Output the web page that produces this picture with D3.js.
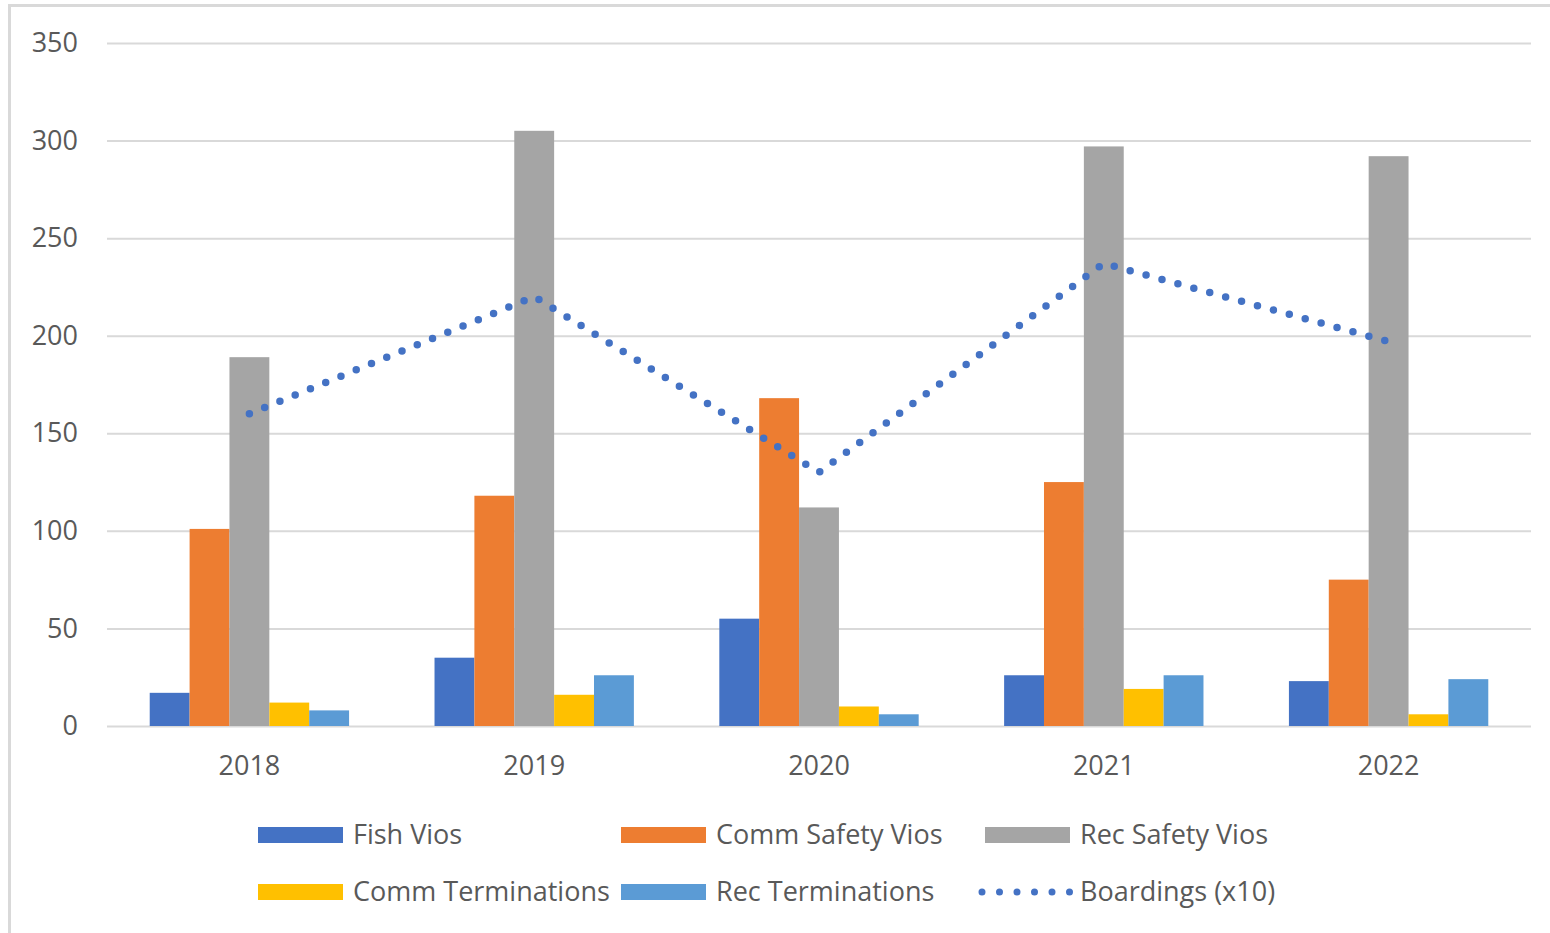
<!DOCTYPE html>
<html>
<head>
<meta charset="utf-8">
<script src="https://cdn.jsdelivr.net/npm/d3@7"></script>
<style>
  body { margin: 0; background: #fff; }
  svg text { font-family: "Open Sans", "Noto Sans", sans-serif; fill: #595959; }
</style>
</head>
<body>
<div id="chart"></div>
<script>
// data
const years = ["2018", "2019", "2020", "2021", "2022"];
const fishVios = [17, 35, 55, 26, 23];
const commSafetyVios = [101, 118, 168, 125, 75];
const recSafetyVios = [189, 305, 112, 297, 292];
const commTerminations = [12, 16, 10, 19, 6];
const recTerminations = [8, 26, 6, 26, 24];
const boardings = [160, 220, 130, 237, 197];
const yTicks = [0, 50, 100, 150, 200, 250, 300, 350];

const barSeries = [
  { name: "Fish Vios", values: fishVios, color: "#4472C4" },
  { name: "Comm Safety Vios", values: commSafetyVios, color: "#ED7D31" },
  { name: "Rec Safety Vios", values: recSafetyVios, color: "#A5A5A5" },
  { name: "Comm Terminations", values: commTerminations, color: "#FFC000" },
  { name: "Rec Terminations", values: recTerminations, color: "#5B9BD5" }
];

function makeChart() {
  let svgWidth = 1550;
  let svgHeight = 933;
  let margin = { top: 43, right: 19, bottom: 207, left: 107 };
  let w = svgWidth - margin.left - margin.right;
  let h = svgHeight - margin.top - margin.bottom;

  let svg = d3.select("#chart")
    .append("svg")
    .attr("width", svgWidth)
    .attr("height", svgHeight);

  // frame
  svg.append("rect")
    .attr("x", 9.5).attr("y", 5.5)
    .attr("width", 1700).attr("height", 1200)
    .attr("fill", "none")
    .attr("stroke", "#d9d9d9")
    .attr("stroke-width", 3);

  let g = svg.append("g")
    .attr("transform", `translate(${margin.left}, ${margin.top})`);

  let x0 = d3.scaleBand()
    .domain(years)
    .range([0, w])
    .paddingInner(0.3)
    .paddingOuter(0.15);

  let x1 = d3.scaleBand()
    .domain(barSeries.map(d => d.name))
    .range([0, x0.bandwidth()]);

  let y = d3.scaleLinear()
    .domain([0, 350])
    .range([h, 0]);

  // gridlines + y labels
  let yAxis = g.append("g")
    .call(d3.axisLeft(y).tickValues(yTicks).tickSize(-w).tickPadding(29));
  yAxis.select(".domain").remove();
  yAxis.selectAll("line").attr("stroke", "#d9d9d9").attr("stroke-width", 2);
  yAxis.selectAll("text").attr("font-size", "27px").style("fill", "#595959");

  // x labels
  let xAxis = g.append("g")
    .attr("transform", `translate(0, ${h})`)
    .call(d3.axisBottom(x0).tickSize(0).tickPadding(30));
  xAxis.select(".domain").remove();
  xAxis.selectAll("text").attr("font-size", "27px").style("fill", "#595959");

  // bars
  barSeries.forEach(s => {
    g.append("g")
      .selectAll("rect")
      .data(years.map((yr, i) => ({ yr: yr, v: s.values[i] })))
      .enter()
      .append("rect")
      .attr("x", d => x0(d.yr) + x1(s.name))
      .attr("y", d => y(d.v))
      .attr("width", x1.bandwidth())
      .attr("height", d => h - y(d.v))
      .attr("fill", s.color);
  });

  // boardings dotted line
  let line = d3.line()
    .x((d, i) => x0(years[i]) + x0.bandwidth() / 2)
    .y(d => y(d));

  g.append("path")
    .datum(boardings)
    .attr("d", line)
    .attr("fill", "none")
    .attr("stroke", "#4472C4")
    .attr("stroke-width", 7.5)
    .attr("stroke-linecap", "round")
    .attr("stroke-dasharray", "0 16.5");

  // legend
  let legendItems = barSeries.map(s => ({ name: s.name, color: s.color, type: "bar" }))
    .concat([{ name: "Boardings (x10)", color: "#4472C4", type: "line" }]);
  let colX = [258, 621, 985];
  let rowY = [835, 892];

  let legend = svg.append("g");
  legendItems.forEach((item, i) => {
    let lx = colX[i % 3];
    let ly = rowY[Math.floor(i / 3)];
    if (item.type === "bar") {
      legend.append("rect")
        .attr("x", lx).attr("y", ly - 8)
        .attr("width", 85).attr("height", 16)
        .attr("fill", item.color);
    } else {
      legend.append("line")
        .attr("x1", lx - 3).attr("x2", lx + 85)
        .attr("y1", ly).attr("y2", ly)
        .attr("stroke", item.color)
        .attr("stroke-width", 7)
        .attr("stroke-linecap", "round")
        .attr("stroke-dasharray", "0 17.5");
    }
    legend.append("text")
      .attr("x", lx + 95)
      .attr("y", ly)
      .attr("dy", "0.35em")
      .attr("font-size", "27px")
      .text(item.name);
  });
}

makeChart();
</script>
</body>
</html>
